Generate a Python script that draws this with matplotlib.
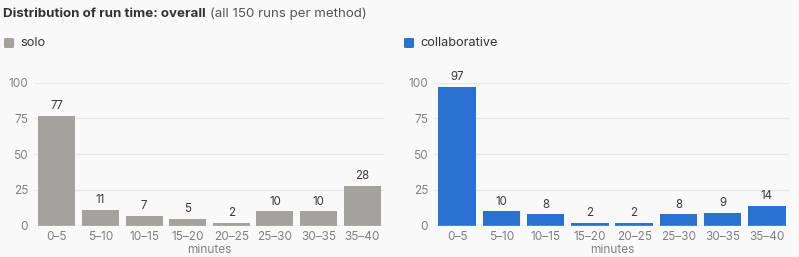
import matplotlib
matplotlib.use("Agg")
import matplotlib.pyplot as plt

plt.rcParams['font.family'] = ['Inter', 'DejaVu Sans']

bins = ["0\u20135", "5\u201310", "10\u201315", "15\u201320", "20\u201325", "25\u201330", "30\u201335", "35\u201340"]
solo = [77, 11, 7, 5, 2, 10, 10, 28]
collab = [97, 10, 8, 2, 2, 8, 9, 14]
yticks = [0, 25, 50, 75, 100]

BG = "#f9f9f9"
W, H = 799, 257

fig = plt.figure(figsize=(W / 100, H / 100), dpi=100, facecolor=BG)


def panel(x0, x1, values, color, name):
    ax = fig.add_axes([x0 / W, (H - 225.7) / H, (x1 - x0) / W, 143 / H])
    ax.set_facecolor(BG)
    xs = range(len(values))
    ax.bar(xs, values, width=0.85, color=color, zorder=3)
    for x, v in zip(xs, values):
        ax.text(x, v + 2.5, str(v), ha="center", va="bottom", fontsize=8.3,
                color="#3a3a3a", clip_on=False, zorder=4)
    ax.set_xlim(-0.5, len(values) - 0.5)
    ax.set_ylim(0, 100)
    ax.set_yticks(yticks)
    ax.set_xticks(list(xs))
    ax.set_xticklabels(bins)
    for y in yticks[1:]:
        ax.axhline(y, color="#e8e8e8", lw=1, zorder=1)
    ax.axhline(0, color="#d4d4d4", lw=1, zorder=4)
    for s in ax.spines.values():
        s.set_visible(False)
    ax.tick_params(length=0, labelsize=8.5, labelcolor="#808080", pad=4)
    ax.tick_params(axis="y", pad=5)
    ax.set_xlabel("minutes", fontsize=8.5, color="#808080", labelpad=0.6)
    # legend
    fig.patches.append(matplotlib.patches.FancyBboxPatch(
        ((x0 - 31) / W, (H - 48) / H), 10 / W, 10 / H,
        boxstyle="round,pad=0,rounding_size=0.003", transform=fig.transFigure,
        facecolor=color, edgecolor="none"))
    fig.text((x0 - 15) / W, (H - 43.5) / H, name, fontsize=9.2, color="#333333",
             va="center", ha="left")
    return ax


panel(35, 384, solo, "#a3a29d", "solo")
panel(435, 789, collab, "#2a72d2", "collaborative")

t1 = fig.text(3 / W, (H - 14) / H, "Distribution of run time: overall", fontsize=9.6,
              fontweight="bold", color="#333333", va="center", ha="left")
fig.canvas.draw()
bb = t1.get_window_extent(fig.canvas.get_renderer())
fig.text(bb.x1 / W + 4 / W, (H - 14) / H, "(all 150 runs per method)", fontsize=9.6,
         color="#555555", va="center", ha="left")

fig.savefig("out.png", dpi=100, facecolor=BG)
